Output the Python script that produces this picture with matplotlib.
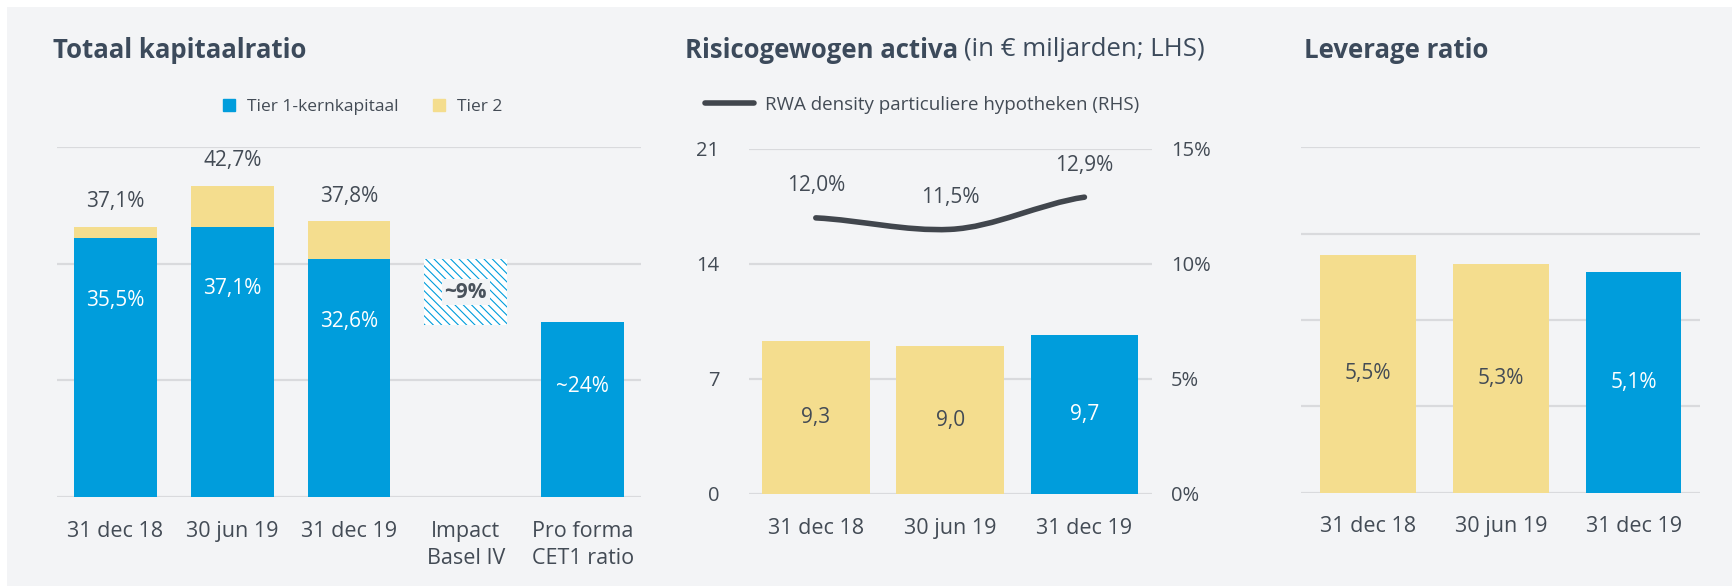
import matplotlib
matplotlib.use('Agg')
import matplotlib.pyplot as plt
from matplotlib.patches import Rectangle, PathPatch
from matplotlib.path import Path
from matplotlib.lines import Line2D
import numpy as np

plt.rcParams['font.family'] = ['Open Sans', 'DejaVu Sans']
plt.rcParams['hatch.linewidth'] = 0.8

# data
cap_cats = ['31 dec 18', '30 jun 19', '31 dec 19', 'Impact\nBasel IV', 'Pro forma\nCET1 ratio']
cet1 = [35.5, 37.1, 32.6]
totaal = [37.1, 42.7, 37.8]
impact = 9.0
proforma = 24.0

rwa_cats = ['31 dec 18', '30 jun 19', '31 dec 19']
rwa = [9.3, 9.0, 9.7]
rwa_density = [12.0, 11.5, 12.9]

lev_cats = ['31 dec 18', '30 jun 19', '31 dec 19']
leverage = [5.5, 5.3, 5.1]

BLUE = '#009ddc'
YELLOW = '#f4dd8e'
TXT = '#434b55'
TITLE = '#3c4a5b'
GRID = '#d9dadd'
BG = '#f3f4f6'
LINE = '#41464d'
TICK_FS = 15.5
VAL_FS = 15

fig = plt.figure(figsize=(17.33, 5.86), dpi=100)
fig.patch.set_facecolor('white')
fig.patches.append(Rectangle((7/1733, 0), 1, 1 - 7/586, transform=fig.transFigure,
                             facecolor=BG, edgecolor='none', zorder=-10))

def nl(v, fmt='{:.1f}'):
    return fmt.format(v).replace('.', ',')

def style(ax):
    ax.set_facecolor('none')
    for s in ax.spines.values():
        s.set_visible(False)
    ax.tick_params(length=0, labelsize=TICK_FS, labelcolor=TXT)
    ax.grid(axis='y', color=GRID, lw=1.6)
    ax.set_axisbelow(True)

# ---- panel 1: totaal kapitaalratio
ax1 = fig.add_axes([0.0329, 0.152, 0.337, 0.597])
style(ax1)
x1 = np.arange(len(cap_cats))
w1 = 0.71
t2 = [t - c for t, c in zip(totaal, cet1)]
ax1.bar(x1[:3], cet1, w1, color=BLUE, zorder=2)
ax1.bar(x1[:3], t2, w1, bottom=cet1, color=YELLOW, zorder=2)
ax1.bar(x1[3], impact, w1, bottom=cet1[2] - impact, color='white', edgecolor=BLUE,
        hatch='\\\\\\\\', lw=0, zorder=2)
ax1.bar(x1[4], proforma, w1, color=BLUE, zorder=2)
for i in range(3):
    ax1.text(x1[i], cet1[i] - 8.5, nl(cet1[i]) + '%', ha='center', va='center',
             color='white', fontsize=VAL_FS)
    ax1.text(x1[i], totaal[i] + 3.4, nl(totaal[i]) + '%', ha='center', va='center',
             color=TXT, fontsize=VAL_FS)
ax1.text(x1[3], cet1[2] - impact / 2, '~%d%%' % impact, ha='center', va='center',
         color='#4a525c', fontsize=VAL_FS, fontweight='bold', zorder=3,
         bbox=dict(boxstyle='square,pad=0.12', facecolor=BG, edgecolor='none'))
ax1.text(x1[4], proforma - 8.8, '~%d%%' % proforma, ha='center', va='center',
         color='white', fontsize=VAL_FS)
ax1.set_xlim(-0.5, 4.5)
ax1.set_ylim(0, 48)
ax1.set_yticks([0, 16, 32, 48])
ax1.set_yticklabels([])
ax1.set_xticks(x1)
ax1.set_xticklabels(cap_cats, linespacing=1.4)
ax1.tick_params(axis='x', pad=17)

fig.legend(handles=[Line2D([], [], marker='s', ls='', color=BLUE, markersize=8),
                    Line2D([], [], marker='s', ls='', color=YELLOW, markersize=8)],
           labels=['Tier 1-kernkapitaal', 'Tier 2'], ncol=2, frameon=False,
           loc='center', bbox_to_anchor=(357/1733, 1 - 107/586), fontsize=12.5,
           handletextpad=0.05, columnspacing=1.3, labelcolor=TXT)

# ---- panel 2: risicogewogen activa
ax2 = fig.add_axes([0.432, 0.157, 0.2325, 0.589])
style(ax2)
x2 = np.arange(len(rwa_cats))
cols2 = [YELLOW, YELLOW, BLUE]
ax2.bar(x2, rwa, 0.8, color=cols2, zorder=2)
for i, v in enumerate(rwa):
    ax2.text(x2[i], v / 2, nl(v), ha='center', va='center', fontsize=VAL_FS,
             color='white' if cols2[i] == BLUE else TXT)
ax2.set_xlim(-0.5, 2.5)
ax2.set_ylim(0, 21)
ax2.set_yticks([0, 7, 14, 21])
ax2.set_xticks(x2)
ax2.set_xticklabels(rwa_cats)
ax2.tick_params(axis='x', pad=17)
ax2.tick_params(axis='y', pad=21, labelsize=14.5)

ax2r = ax2.twinx()
ax2r.set_facecolor('none')
for s in ax2r.spines.values():
    s.set_visible(False)
ax2r.set_ylim(0, 15)
ax2r.set_yticks([0, 5, 10, 15])
ax2r.set_yticklabels(['%d%%' % v for v in [0, 5, 10, 15]])
ax2r.tick_params(length=0, labelsize=14.5, labelcolor=TXT, pad=14)

# smooth line through the density points (cubic bezier)
px = np.array(x2, dtype=float)
py = np.array(rwa_density)
tan = np.gradient(py, px)
verts = [(px[0], py[0])]
codes = [Path.MOVETO]
for i in range(len(px) - 1):
    d = (px[i + 1] - px[i]) / 3
    verts += [(px[i] + d, py[i] + tan[i] * d * 0.6),
              (px[i + 1] - d, py[i + 1] - tan[i + 1] * d * 0.6),
              (px[i + 1], py[i + 1])]
    codes += [Path.CURVE4] * 3
ax2r.add_patch(PathPatch(Path(verts, codes), fill=False, lw=4, edgecolor=LINE,
                         capstyle='round', zorder=3))
for i, v in enumerate(rwa_density):
    ax2r.annotate(nl(v) + '%', (px[i], v), xytext=(0, 23), textcoords='offset points',
                  ha='center', va='center', fontsize=VAL_FS, color=TXT)

fig.legend(handles=[Line2D([], [], color=LINE, lw=4, solid_capstyle='round')],
           labels=['RWA density particuliere hypotheken (RHS)'], frameon=False,
           loc='center left', bbox_to_anchor=(705/1733, 1 - 105/586), fontsize=13.5,
           handlelength=2.6, handletextpad=0.6, borderpad=0, borderaxespad=0,
           labelcolor=TXT)

# ---- panel 3: leverage ratio
ax3 = fig.add_axes([0.751, 0.159, 0.230, 0.590])
style(ax3)
x3 = np.arange(len(lev_cats))
cols3 = [YELLOW, YELLOW, BLUE]
ax3.bar(x3, leverage, 0.72, color=cols3, zorder=2)
for i, v in enumerate(leverage):
    ax3.text(x3[i], v / 2, nl(v) + '%', ha='center', va='center', fontsize=VAL_FS,
             color='white' if cols3[i] == BLUE else TXT)
ax3.set_xlim(-0.5, 2.5)
ax3.set_ylim(0, 8)
ax3.set_yticks([0, 2, 4, 6, 8])
ax3.set_yticklabels([])
ax3.set_xticks(x3)
ax3.set_xticklabels(lev_cats)
ax3.tick_params(axis='x', pad=17)

# ---- titles
ty = 1 - 50/586
TFS = 18.5
fig.text(53/1733, ty, 'Totaal kapitaalratio', fontsize=TFS, fontweight='bold',
         color=TITLE, va='center')
t = fig.text(685/1733, ty, 'Risicogewogen activa', fontsize=TFS, fontweight='bold',
             color=TITLE, va='center')
fig.canvas.draw()
bb = t.get_window_extent()
fig.text(bb.x1 / fig.bbox.width + 6/1733, ty, '(in € miljarden; LHS)', fontsize=TFS,
         color=TITLE, va='center')
fig.text(1304/1733, ty, 'Leverage ratio', fontsize=TFS, fontweight='bold',
         color=TITLE, va='center')

fig.savefig('out.png', dpi=100, facecolor=fig.get_facecolor())
